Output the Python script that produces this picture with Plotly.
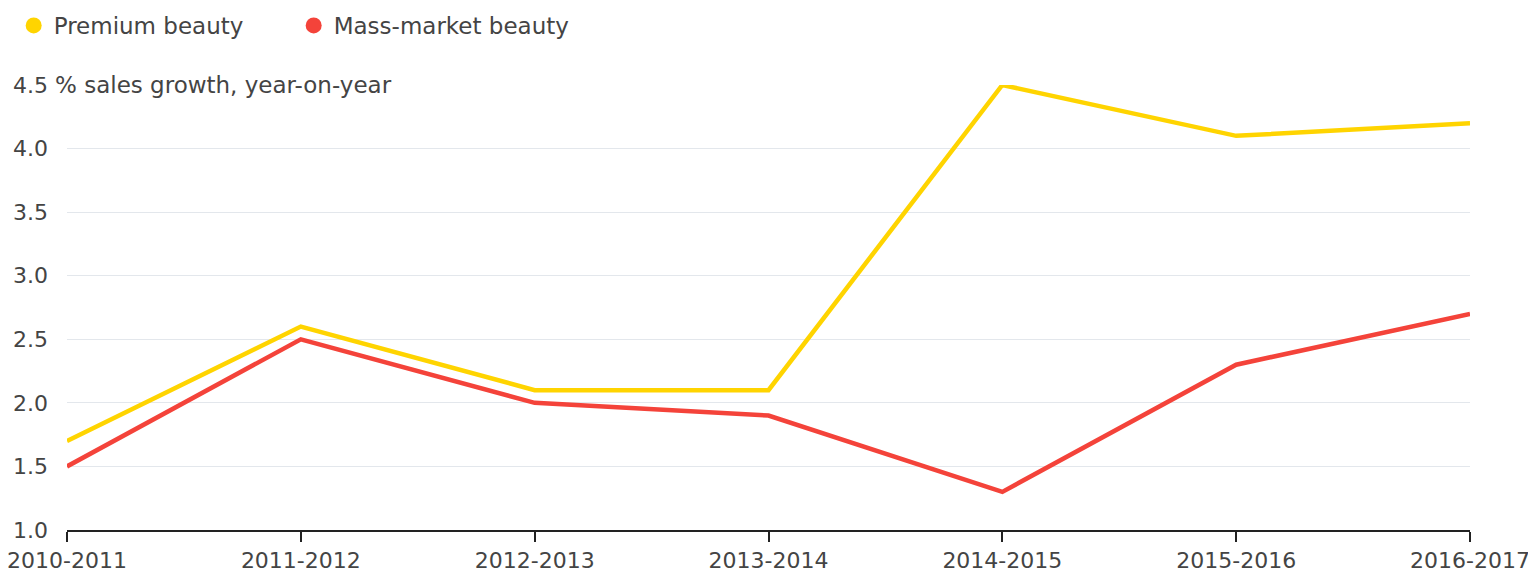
import plotly.graph_objects as go

periods = ["2010-2011", "2011-2012", "2012-2013", "2013-2014", "2014-2015", "2015-2016", "2016-2017"]
premium = [1.7, 2.6, 2.1, 2.1, 4.5, 4.1, 4.2]
mass = [1.5, 2.5, 2.0, 1.9, 1.3, 2.3, 2.7]
y_ticks = [1.0, 1.5, 2.0, 2.5, 3.0, 3.5, 4.0, 4.5]

YELLOW = "#FFD400"
RED = "#F4433A"
FONT = "DejaVu Sans"
TXT = "#444444"

xs = list(range(len(periods)))
fig = go.Figure()
fig.add_trace(go.Scatter(x=xs, y=premium, mode="lines", line=dict(color=YELLOW, width=4.5),
                         showlegend=False, name="Premium beauty"))
fig.add_trace(go.Scatter(x=xs, y=mass, mode="lines", line=dict(color=RED, width=4.5),
                         showlegend=False, name="Mass-market beauty"))
# legend entries (circle markers)
fig.add_trace(go.Scatter(x=[None], y=[None], mode="markers", name="Premium beauty",
                         marker=dict(color=YELLOW, size=18)))
fig.add_trace(go.Scatter(x=[None], y=[None], mode="markers", name="Mass-market beauty",
                         marker=dict(color=RED, size=18)))

fig.update_layout(
    width=1536, height=581,
    margin=dict(l=59, r=74, t=77, b=59, autoexpand=False),
    plot_bgcolor="white", paper_bgcolor="white",
    font=dict(family=FONT, size=22, color=TXT),
    legend=dict(orientation="h", x=-0.038, y=1.182, xanchor="left", yanchor="top",
                font=dict(size=23, color=TXT), itemsizing="trace",
                traceorder="normal", itemwidth=30, entrywidth=235, entrywidthmode="pixels"),
    xaxis=dict(range=[0, 6], tickvals=xs, ticktext=periods, showgrid=False,
               showline=True, linecolor="#222", linewidth=2, ticks="outside",
               ticklen=10, tickwidth=2, tickcolor="#222", zeroline=False,
               automargin=False, ticklabeloverflow="allow",
               tickfont=dict(size=22, color=TXT)),
    yaxis=dict(range=[1.0, 4.5], tickvals=y_ticks, ticktext=[f"{v:.1f}" for v in y_ticks],
               showgrid=True, gridcolor="#E3E7EC", gridwidth=1, zeroline=False,
               showline=False, ticks="", ticklabelstandoff=18, automargin=False,
               ticklabeloverflow="allow", tickfont=dict(size=22, color=TXT)),
)
fig.add_annotation(text="% sales growth, year-on-year", xref="paper", yref="y",
                   x=-0.011, y=4.5, xanchor="left", yanchor="middle", showarrow=False,
                   bgcolor="white", font=dict(size=23, color=TXT), borderpad=2)

fig.write_html("out.html")
